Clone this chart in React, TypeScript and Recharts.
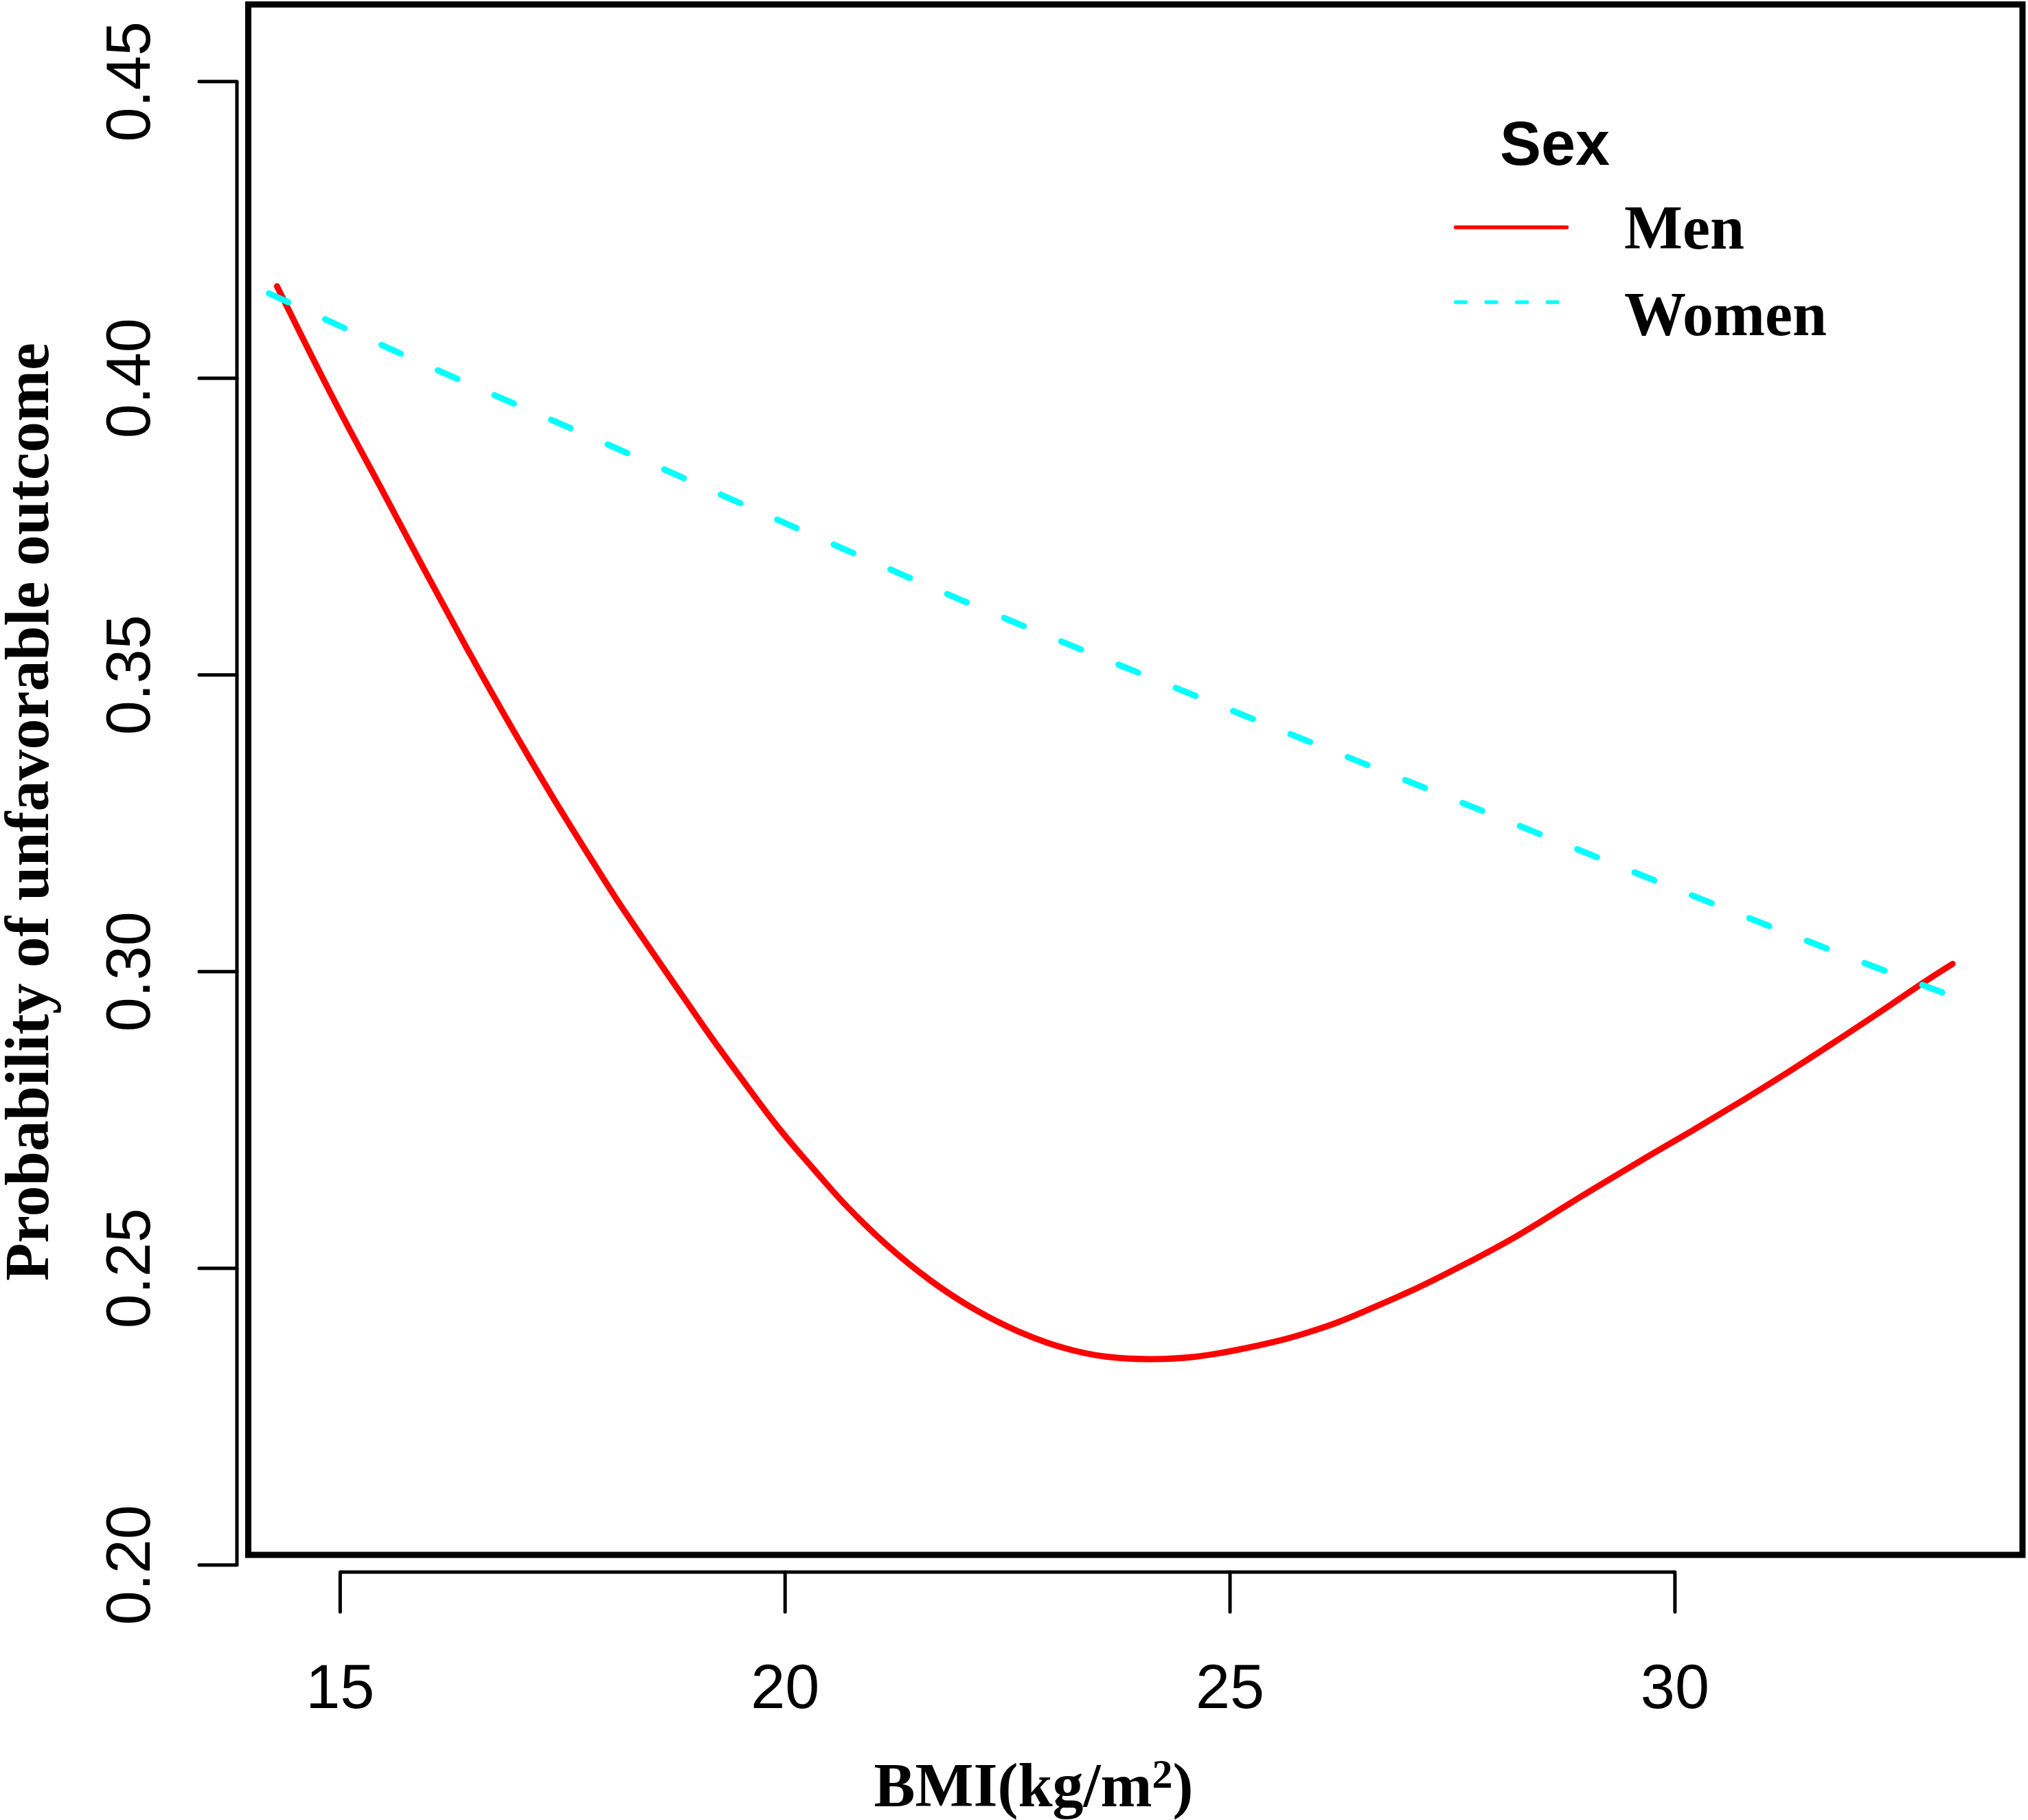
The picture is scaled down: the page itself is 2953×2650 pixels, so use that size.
import React from 'react'
import { LineChart, Line, XAxis, YAxis, ReferenceLine, ReferenceArea, Legend } from 'recharts'

// values
const MEN_BMI = [14.29, 14.94, 15.43, 15.92, 16.42, 16.91, 17.4, 17.89, 18.12, 18.38, 18.64, 18.9, 19.15, 19.41, 19.67, 19.92, 20.18, 20.44, 20.65, 21.15, 21.64, 22.13, 22.62, 23.11, 23.6, 24.1, 24.59, 25.08, 25.57, 25.84, 26.23, 26.61, 27.0, 27.38, 27.77, 28.16, 28.54, 28.93, 29.31, 29.7, 30.22, 30.73, 31.25, 31.76, 32.27, 32.79, 33.12]
const MEN_PROB = [0.4155, 0.3958, 0.3824, 0.3684, 0.3545, 0.3415, 0.329, 0.3173, 0.3118, 0.3061, 0.3004, 0.2948, 0.2893, 0.284, 0.2787, 0.2737, 0.2691, 0.2647, 0.261, 0.2536, 0.2477, 0.2429, 0.2392, 0.2365, 0.2349, 0.2346, 0.2349, 0.2362, 0.2378, 0.239, 0.2409, 0.2434, 0.2459, 0.2487, 0.2517, 0.2548, 0.2583, 0.262, 0.2654, 0.2689, 0.2734, 0.278, 0.2828, 0.2878, 0.2928, 0.2982, 0.3013]

const WOMEN_BMI = [14.2, 16, 18, 20, 22, 24, 26, 28, 30, 32, 33.11]
const WOMEN_PROB = [0.4143, 0.402, 0.3889, 0.3756, 0.3625, 0.3502, 0.3381, 0.3261, 0.314, 0.3022, 0.2959]

const X_TICKS = [15, 20, 25, 30]
const Y_TICKS = [0.2, 0.25, 0.3, 0.35, 0.4, 0.45]
const X_DOMAIN = [13.967, 33.906]
const Y_DOMAIN = [0.2017, 0.463]

const menData = MEN_BMI.map((bmi, i) => ({ bmi, prob: MEN_PROB[i] }))
const womenData = WOMEN_BMI.map((bmi, i) => ({ bmi, prob: WOMEN_PROB[i] }))

const SANS = '"Liberation Sans", Arial, sans-serif'
const SERIF = '"Liberation Serif", "Times New Roman", serif'

const LEGEND_STYLE: Record<string, { dash?: string }> = {
  Men: {},
  Women: { dash: '15 29.6' },
}

const XTick = (props: any) => {
  const { x, y, payload } = props
  return (
    <g>
      <line x1={x} x2={x} y1={y + 25} y2={y + 83} stroke="#000" strokeWidth={5} strokeLinecap="round" />
      <text x={x} y={y + 223} textAnchor="middle" fontFamily={SANS} fontSize={90} fill="#000">
        {payload.value}
      </text>
    </g>
  )
}

const YTick = (props: any) => {
  const { x, y, payload } = props
  return (
    <g>
      <line x1={x - 16.5} x2={x - 71.5} y1={y} y2={y} stroke="#000" strokeWidth={5} strokeLinecap="round" />
      <text
        transform={`translate(${x - 143.5},${y}) rotate(-90)`}
        textAnchor="middle"
        fontFamily={SANS}
        fontSize={90}
        fill="#000"
      >
        {Number(payload.value).toFixed(2)}
      </text>
    </g>
  )
}

const XTitle = () => (
  <text x={1505} y={2630} textAnchor="middle" fontFamily={SERIF} fontWeight="bold" fontSize={90} fill="#000">
    BMI(kg/m
    <tspan dy={-27} fontSize={60}>2</tspan>
    <tspan dy={27}>)</tspan>
  </text>
)

const YTitle = () => (
  <text
    transform="translate(70,1182) rotate(-90)"
    textAnchor="middle"
    fontFamily={SERIF}
    fontWeight="bold"
    fontSize={90}
    fill="#000"
  >
    Probability of unfavorable outcome
  </text>
)

const SexLegend = (props: any) => {
  const { payload = [] } = props
  return (
    <svg width={600} height={360}>
      <text x={84} y={90} fontFamily={SANS} fontWeight="bold" fontSize={90} fill="#000">
        Sex
      </text>
      {payload.map((entry: any, i: number) => {
        const rowY = 181 + i * 109
        const style = LEGEND_STYLE[entry.value] || {}
        return (
          <g key={entry.value}>
            <line
              x1={19.5}
              x2={181.5}
              y1={rowY}
              y2={rowY}
              stroke={entry.color}
              strokeWidth={5.5}
              strokeLinecap="round"
              strokeDasharray={style.dash}
            />
            <text x={265} y={rowY + 31 + i * 17} fontFamily={SERIF} fontWeight="bold" fontSize={90} fill="#000">
              {entry.value}
            </text>
          </g>
        )
      })}
    </svg>
  )
}

export default function App() {
  return (
    <div style={{ width: 2953, height: 2650, background: '#fff' }}>
      <style>{'body{margin:0}'}</style>
      <LineChart width={2953} height={2650} margin={{ top: 6.5, right: 8, bottom: 0, left: 0 }}>
        <XAxis
          dataKey="bmi"
          type="number"
          domain={X_DOMAIN}
          ticks={X_TICKS}
          interval={0}
          height={386}
          axisLine={false}
          tickLine={false}
          tickSize={0}
          tickMargin={0}
          tick={<XTick />}
          label={{ content: XTitle }}
        />
        <YAxis
          type="number"
          domain={Y_DOMAIN}
          ticks={Y_TICKS}
          interval={0}
          width={361.5}
          axisLine={false}
          tickLine={false}
          tickSize={0}
          tickMargin={0}
          tick={<YTick />}
          label={{ content: YTitle }}
        />
        <ReferenceArea
          x1={X_DOMAIN[0]}
          x2={X_DOMAIN[1]}
          y1={Y_DOMAIN[0]}
          y2={Y_DOMAIN[1]}
          ifOverflow="visible"
          fill="none"
          fillOpacity={0}
          stroke="#000"
          strokeWidth={9}
        />
        <ReferenceLine
          segment={[
            { x: X_DOMAIN[0], y: Y_TICKS[0] },
            { x: X_DOMAIN[0], y: Y_TICKS[Y_TICKS.length - 1] },
          ]}
          ifOverflow="visible"
          shape={(p: any) => (
            <line x1={p.x1 - 16.5} x2={p.x2 - 16.5} y1={p.y1} y2={p.y2} stroke="#000" strokeWidth={5} />
          )}
        />
        <ReferenceLine
          segment={[
            { x: X_TICKS[0], y: Y_DOMAIN[0] },
            { x: X_TICKS[X_TICKS.length - 1], y: Y_DOMAIN[0] },
          ]}
          ifOverflow="visible"
          shape={(p: any) => (
            <line x1={p.x1} x2={p.x2} y1={p.y1 + 25} y2={p.y2 + 25} stroke="#000" strokeWidth={5} />
          )}
        />
        <Line
          data={menData}
          dataKey="prob"
          name="Men"
          type="basis"
          stroke="#FF0000"
          strokeWidth={9}
          strokeLinecap="round"
          dot={false}
          activeDot={false}
          isAnimationActive={false}
        />
        <Line
          data={womenData}
          dataKey="prob"
          name="Women"
          type="monotone"
          stroke="#00FFFF"
          strokeWidth={9}
          strokeLinecap="round"
          strokeDasharray="31 59"
          dot={false}
          activeDot={false}
          isAnimationActive={false}
        />
        <Legend
          layout="vertical"
          align="center"
          verticalAlign="middle"
          content={SexLegend}
          wrapperStyle={{ left: 2100, top: 150, width: 600, height: 360 }}
        />
      </LineChart>
    </div>
  )
}
